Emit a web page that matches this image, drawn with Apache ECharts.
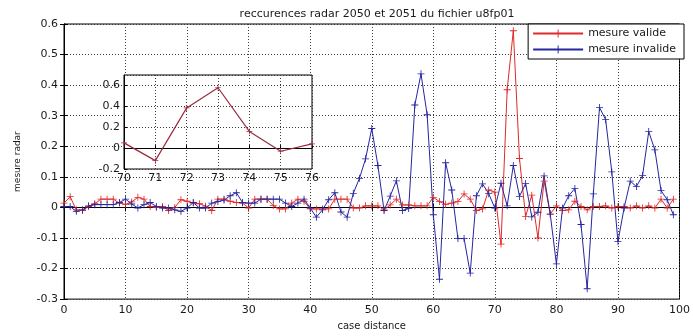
<!DOCTYPE html>
<html><head><meta charset="utf-8">
<script src="https://cdn.jsdelivr.net/npm/echarts@6/dist/echarts.min.js"></script>
<style>html,body{margin:0;padding:0;background:#fff}#c{width:693px;height:336px}</style>
</head><body><div id="c"></div>
<script>
// x positions (case distance)
const distances = [0,1,2,3,4,5,6,7,8,9,10,11,12,13,14,15,16,17,18,19,20,21,22,23,24,25,26,27,28,29,30,31,32,33,34,35,36,37,38,39,40,41,42,43,44,45,46,47,48,49,50,51,52,53,54,55,56,57,58,59,60,61,62,63,64,65,66,67,68,69,70,71,72,73,74,75,76,77,78,79,80,81,82,83,84,85,86,87,88,89,90,91,92,93,94,95,96,97,98,99];
// mesure valide (red)
const valide = [
  0.014, 0.035, -0.008, -0.01, 0.003, 0.012, 0.027, 0.027, 0.027, 0.014,
  0.01, 0.018, 0.033, 0.027, 0.003, 0.0, 0.003, -0.01, 0.0, 0.025,
  0.02, 0.014, 0.012, 0.004, -0.01, 0.027, 0.027, 0.02, 0.016, 0.014,
  -0.002, 0.027, 0.027, 0.027, 0.006, -0.005, -0.005, 0.014, 0.027, 0.02,
  -0.005, -0.005, -0.005, -0.005, 0.027, 0.027, 0.027, -0.002, -0.002, 0.005,
  0.005, 0.005, -0.008, 0.008, 0.027, 0.008, 0.008, 0.005, 0.005, 0.005,
  0.033, 0.019, 0.01, 0.014, 0.019, 0.044, 0.027, -0.01, -0.005, 0.057,
  0.05, -0.12, 0.385, 0.578, 0.16, -0.03, 0.04, -0.1, 0.086, -0.022,
  0.005, -0.01, -0.008, 0.02, 0.003, -0.008, 0.003, 0.003, 0.005, -0.002,
  0.003, 0.003, -0.002, 0.005, -0.002, 0.005, -0.002, 0.027, -0.002, 0.027
];
// mesure invalide (blue)
const invalide = [
  0.003, 0.003, -0.013, -0.008, 0.005, 0.009, 0.009, 0.009, 0.009, 0.016,
  0.027, 0.011, -0.002, 0.009, 0.016, 0.003, -0.002, -0.002, -0.008, -0.013,
  -0.002, 0.016, -0.002, -0.002, 0.014, 0.019, 0.024, 0.038, 0.048, 0.016,
  0.014, 0.014, 0.027, 0.027, 0.027, 0.027, 0.014, 0.003, 0.014, 0.027,
  -0.002, -0.032, -0.008, 0.025, 0.048, -0.015, -0.032, 0.046, 0.095, 0.159,
  0.258, 0.137, -0.01, 0.037, 0.087, -0.01, -0.004, 0.335, 0.437, 0.303,
  -0.024, -0.235, 0.146, 0.057, -0.102, -0.102, -0.215, 0.038, 0.077, 0.045,
  -0.002, 0.079, 0.005, 0.137, 0.036, 0.078, -0.031, -0.016, 0.103, -0.022,
  -0.185, -0.002, 0.038, 0.062, -0.056, -0.266, 0.044, 0.327, 0.287, 0.116,
  -0.112, -0.002, 0.086, 0.068, 0.104, 0.248, 0.188, 0.055, 0.025, -0.024
];
// zoomed inset: distances 70..76 of the valid measure
const insetStart = 70, insetEnd = 76;
const seriesNames = ['mesure valide', 'mesure invalide'];
const titleText = 'reccurences radar 2050 et 2051 du fichier u8fp01';

const FONT = 'DejaVu Sans';
const PLUS = 'path://M4.4,0H5.6V4.4H10V5.6H5.6V10H4.4V5.6H0V4.4H4.4Z';
const TXT = '#1a1a1a';
const dotted = {show: true, lineStyle: {color: '#3a3a3a', width: 1, type: [1, 2]}};
const fmt = v => String(Math.round(v * 10) / 10);

const pairs = (xs, ys) => ys.map((v, i) => [xs[i], v]);
const insetX = distances.filter(d => d >= insetStart && d <= insetEnd);
const insetY = insetX.map(d => valide[distances.indexOf(d)]);

const chart = echarts.init(document.getElementById('c'), null, {renderer: 'canvas'});
chart.setOption({
  animation: false,
  backgroundColor: '#fff',
  textStyle: {fontFamily: FONT},
  title: {
    text: titleText, left: 372, top: 4, textAlign: 'center',
    textStyle: {fontSize: 11, fontWeight: 'normal', color: TXT, fontFamily: FONT}
  },
  legend: {
    data: seriesNames, orient: 'vertical', right: 9, top: 24,
    backgroundColor: '#fff', borderColor: '#000', borderWidth: 1,
    padding: [4, 8, 4, 4], itemGap: 5, itemWidth: 50, itemHeight: 10,
    textStyle: {fontSize: 11, color: TXT, fontFamily: FONT}, z: 10
  },
  grid: [
    {left: 64, right: 9, top: 24, bottom: 32, show: true, borderColor: '#000', borderWidth: 1, backgroundColor: 'transparent'},
    {left: 124, top: 75, width: 188, height: 94, show: true, borderColor: '#000', borderWidth: 1, backgroundColor: '#fff', z: 5}
  ],
  xAxis: [
    {type: 'value', gridIndex: 0, min: 0, max: 100, interval: 10,
     axisLine: {show: true, lineStyle: {color: '#000'}}, axisTick: {inside: true, length: 4, lineStyle: {color: '#000'}},
     axisLabel: {fontSize: 11, color: TXT, margin: 6, fontFamily: FONT},
     splitLine: dotted,
     name: 'case distance', nameLocation: 'middle', nameGap: 20,
     nameTextStyle: {fontSize: 10, color: TXT, fontFamily: FONT}},
    {type: 'value', gridIndex: 0, position: 'top', min: 0, max: 100, interval: 10,
     axisLine: {show: true, lineStyle: {color: '#000'}}, axisTick: {inside: true, length: 4, lineStyle: {color: '#000'}},
     axisLabel: {show: false}, splitLine: {show: false}},
    {type: 'value', gridIndex: 1, min: insetStart, max: insetEnd, interval: 1, z: 6,
     axisLine: {show: true, lineStyle: {color: '#000'}}, axisTick: {inside: true, length: 3, lineStyle: {color: '#000'}},
     axisLabel: {fontSize: 11, color: TXT, margin: 4, fontFamily: FONT},
     splitLine: dotted}
  ],
  yAxis: [
    {type: 'value', gridIndex: 0, min: -0.3, max: 0.6, interval: 0.1,
     axisLine: {show: true, lineStyle: {color: '#000'}}, axisTick: {inside: true, length: 4, lineStyle: {color: '#000'}},
     axisLabel: {fontSize: 11, color: TXT, margin: 6, formatter: fmt, fontFamily: FONT},
     splitLine: dotted,
     name: 'mesure radar', nameLocation: 'middle', nameGap: 42,
     nameTextStyle: {fontSize: 9, color: TXT, fontFamily: FONT}},
    {type: 'value', gridIndex: 0, position: 'right', min: -0.3, max: 0.6, interval: 0.1,
     axisLine: {show: true, lineStyle: {color: '#000'}}, axisTick: {inside: true, length: 4, lineStyle: {color: '#000'}},
     axisLabel: {show: false}, splitLine: {show: false}},
    {type: 'value', gridIndex: 1, min: -0.2, max: 0.7, interval: 0.2, z: 6,
     axisLine: {show: true, lineStyle: {color: '#000'}}, axisTick: {inside: true, length: 3, lineStyle: {color: '#000'}},
     axisLabel: {fontSize: 11, color: TXT, margin: 4, formatter: fmt, showMaxLabel: false, fontFamily: FONT},
     splitLine: dotted}
  ],
  series: [
    {name: seriesNames[0], type: 'line', xAxisIndex: 0, yAxisIndex: 0, data: pairs(distances, valide),
     color: '#e02a2a', lineStyle: {width: 1}, symbol: PLUS, symbolSize: 7, z: 3},
    {name: seriesNames[1], type: 'line', xAxisIndex: 0, yAxisIndex: 0, data: pairs(distances, invalide),
     color: '#2626a0', lineStyle: {width: 1}, symbol: PLUS, symbolSize: 7, z: 3},
    {name: 'zoom', type: 'line', xAxisIndex: 2, yAxisIndex: 2, data: pairs(insetX, insetY),
     color: '#9a2c40', lineStyle: {width: 1.2}, symbol: PLUS, symbolSize: 6, z: 7}
  ]
});
</script>
</body></html>
